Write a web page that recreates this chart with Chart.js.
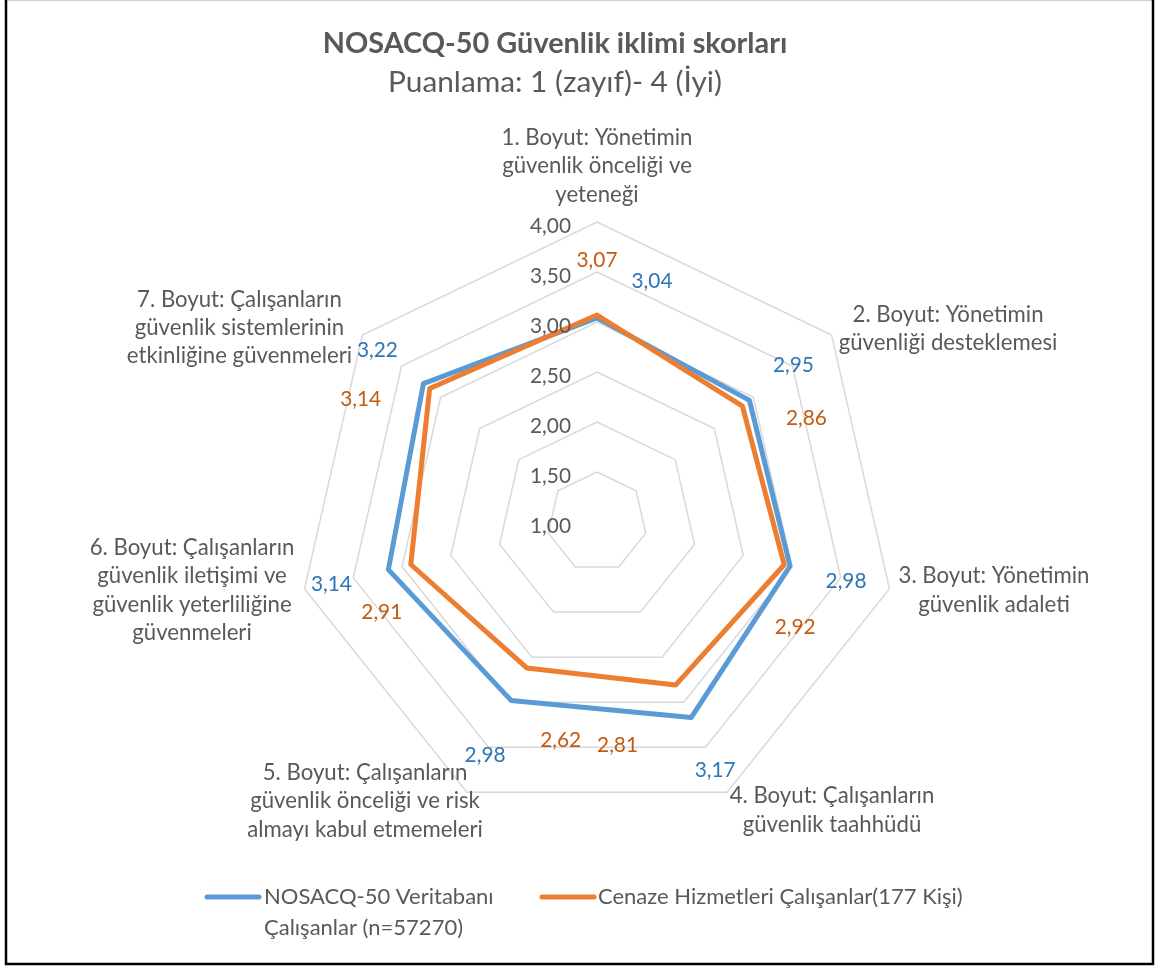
<!DOCTYPE html>
<html>
<head>
<meta charset="utf-8">
<script src="https://cdn.jsdelivr.net/npm/chart.js@4.4.1/dist/chart.umd.min.js"></script>
<style>
  html, body { margin: 0; padding: 0; background: #ffffff; }
  #wrap { position: relative; width: 1155px; height: 967px; }
</style>
</head>
<body>
<div id="wrap"><canvas id="c"></canvas></div>
<script>
// ---------- DATA ----------
const titleText = 'NOSACQ-50 Güvenlik iklimi skorları';
const subtitleText = 'Puanlama: 1 (zayıf)- 4 (İyi)';
const categories = [
  ['1. Boyut: Yönetimin', 'güvenlik önceliği ve', 'yeteneği'],
  ['2. Boyut: Yönetimin', 'güvenliği desteklemesi'],
  ['3. Boyut: Yönetimin', 'güvenlik adaleti'],
  ['4. Boyut: Çalışanların', 'güvenlik taahhüdü'],
  ['5. Boyut: Çalışanların', 'güvenlik önceliği ve risk', 'almayı kabul etmemeleri'],
  ['6. Boyut: Çalışanların', 'güvenlik iletişimi ve', 'güvenlik yeterliliğine', 'güvenmeleri'],
  ['7. Boyut: Çalışanların', 'güvenlik sistemlerinin', 'etkinliğine güvenmeleri']
];
const seriesNames = [
  ['NOSACQ-50 Veritabanı', 'Çalışanlar (n=57270)'],
  ['Cenaze Hizmetleri Çalışanlar(177 Kişi)']
];
const veritabaniValues = [3.04, 2.95, 2.98, 3.17, 2.98, 3.14, 3.22];
const cenazeValues     = [3.07, 2.86, 2.92, 2.81, 2.62, 2.91, 3.14];
const scaleMin = 1, scaleMax = 4, scaleStep = 0.5;

// ---------- STYLE ----------
const FAMILY = 'Lato, "Open Sans", sans-serif';
const TEXT = '#595959';
const BLUE = '#5B9BD5', ORANGE = '#ED7D31';
const BLUE_LBL = '#2E75B6', ORANGE_LBL = '#C55A11';
// offsets of axis-label blocks (center x, first baseline) from the outer vertex
const axisLabelOffsets = [[0, -77], [116.5, -13.3], [104.5, -5.5], [104.8, 11], [-101.8, -12.3], [-112.5, -33.8], [-123, -28.3]];
const axisLineHeight = 28.4;
// offsets of value-label centers from their points
const valueLabelOffsets = [
  [[55, -38], [44, -36], [56, 14], [24, 52], [-26, 54], [-57, 14], [-46, -34]],
  [[0, -56], [64, 11], [11, 62], [-58, 59], [34, 72], [-29, 47], [-69, 10]]
];
const valueLabelColors = [BLUE_LBL, ORANGE_LBL];

function fmt(v) { return v.toFixed(2).replace('.', ','); }
function fitSize(ctx, text, target, weight) {
  ctx.font = weight + ' 100px ' + FAMILY;
  return 100 * target / ctx.measureText(text).width;
}

const textPlugin = {
  id: 'textPlugin',
  afterDraw(chart) {
    const ctx = chart.ctx;
    const r = chart.scales.r;
    ctx.save();

    // frame
    ctx.strokeStyle = '#d0d0d0'; ctx.lineWidth = 1;
    ctx.beginPath(); ctx.moveTo(6, 0.5); ctx.lineTo(1153, 0.5); ctx.stroke();
    ctx.strokeStyle = '#000000'; ctx.lineWidth = 2.5;
    ctx.beginPath(); ctx.moveTo(6, 0); ctx.lineTo(6, 964); ctx.lineTo(1153, 964); ctx.lineTo(1153, 0); ctx.stroke();

    ctx.fillStyle = TEXT;
    ctx.textBaseline = 'alphabetic';
    ctx.textAlign = 'center';

    // title + subtitle
    let s = fitSize(ctx, titleText, 465, 'bold');
    ctx.font = 'bold ' + s + 'px ' + FAMILY;
    ctx.fillText(titleText, 555, 53);
    s = fitSize(ctx, subtitleText, 334, 'normal');
    ctx.font = s + 'px ' + FAMILY;
    ctx.fillText(subtitleText, 555, 92);

    // tick labels
    const numSize = fitSize(ctx, '3,00', 41, 'normal');
    ctx.font = numSize + 'px ' + FAMILY;
    ctx.textAlign = 'right';
    r.ticks.forEach(t => {
      const d = r.getDistanceFromCenterForValue(t.value);
      ctx.fillText(fmt(t.value), r.xCenter - 26, r.yCenter - d + 10.5);
    });

    // axis labels
    const axSize = fitSize(ctx, '1. Boyut: Yönetimin', 191, 'normal');
    ctx.font = axSize + 'px ' + FAMILY;
    ctx.textAlign = 'center';
    const outer = r.getDistanceFromCenterForValue(r.max);
    categories.forEach((lines, i) => {
      const p = r.getPointPosition(i, outer);
      const [dx, dy] = axisLabelOffsets[i];
      lines.forEach((ln, k) => ctx.fillText(ln, p.x + dx, p.y + dy + k * axisLineHeight));
    });

    // value labels
    ctx.font = numSize + 'px ' + FAMILY;
    const half = numSize * 0.36;
    chart.data.datasets.forEach((ds, di) => {
      const meta = chart.getDatasetMeta(di);
      ctx.fillStyle = valueLabelColors[di];
      meta.data.forEach((pt, i) => {
        const [dx, dy] = valueLabelOffsets[di][i];
        ctx.fillText(fmt(ds.data[i]), pt.x + dx, pt.y + dy + half);
      });
    });

    // legend
    const lgSize = fitSize(ctx, seriesNames[1][0], 365, 'normal');
    ctx.font = lgSize + 'px ' + FAMILY;
    ctx.textAlign = 'left';
    ctx.fillStyle = TEXT;
    ctx.lineCap = 'round';
    ctx.lineWidth = 5;
    const legendItems = [{x0: 207, x1: 259, tx: 264, color: BLUE}, {x0: 542, x1: 594, tx: 598, color: ORANGE}];
    legendItems.forEach((it, i) => {
      ctx.strokeStyle = it.color;
      ctx.beginPath(); ctx.moveTo(it.x0, 897); ctx.lineTo(it.x1, 897); ctx.stroke();
      seriesNames[i].forEach((ln, k) => ctx.fillText(ln, it.tx, 904 + k * 31));
    });

    ctx.restore();
  }
};

new Chart(document.getElementById('c'), {
  type: 'radar',
  data: {
    labels: categories,
    datasets: [
      { label: seriesNames[0].join(' '), data: veritabaniValues, borderColor: BLUE, backgroundColor: 'transparent',
        borderWidth: 5, pointRadius: 0, borderJoinStyle: 'round', fill: false, order: 1 },
      { label: seriesNames[1][0], data: cenazeValues, borderColor: ORANGE, backgroundColor: 'transparent',
        borderWidth: 5, pointRadius: 0, borderJoinStyle: 'round', fill: false, order: 0 }
    ]
  },
  options: {
    responsive: true,
    maintainAspectRatio: false,
    animation: false,
    layout: { padding: { left: 297, right: 258, top: 222, bottom: 145 } },
    plugins: { legend: { display: false }, title: { display: false }, tooltip: { enabled: false } },
    elements: { line: { tension: 0 } },
    scales: {
      r: {
        min: scaleMin, max: scaleMax,
        ticks: { stepSize: scaleStep, display: false },
        grid: { color: '#d9d9d9', lineWidth: 1.5 },
        angleLines: { display: false },
        pointLabels: { display: false }
      }
    }
  },
  plugins: [textPlugin]
});
</script>
</body>
</html>
